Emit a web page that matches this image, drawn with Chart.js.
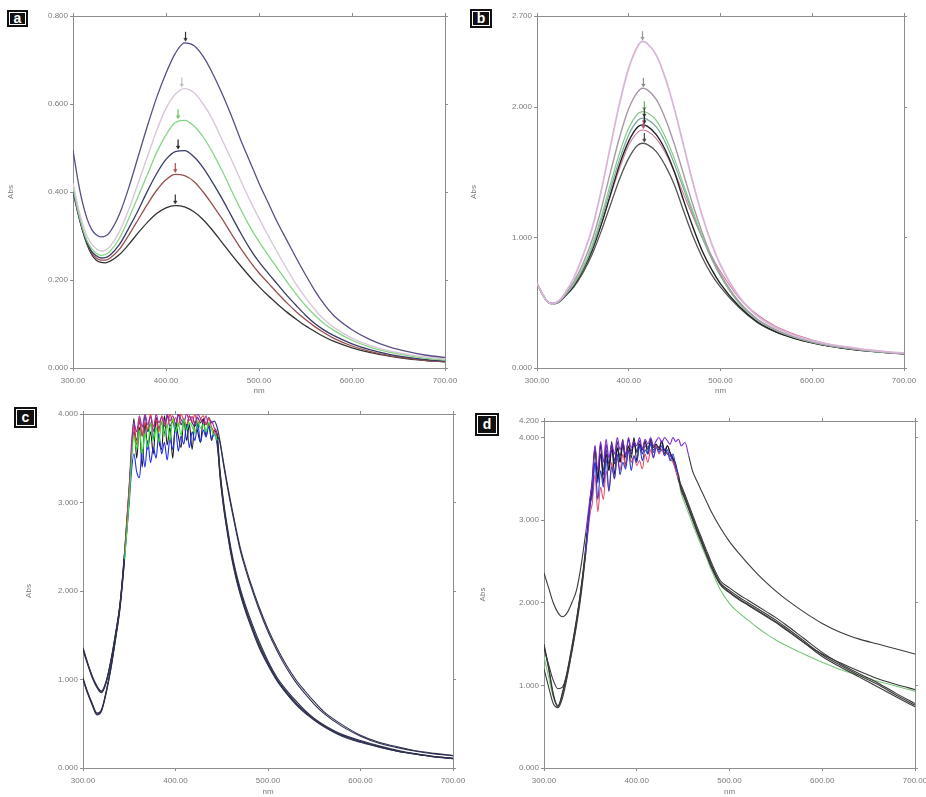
<!DOCTYPE html>
<html>
<head>
<meta charset="utf-8">
<script src="https://cdn.jsdelivr.net/npm/chart.js@4.4.1/dist/chart.umd.min.js"></script>
<style>
  html, body { margin: 0; padding: 0; background: #fff; }
  #fig { position: relative; width: 926px; height: 797px; overflow: hidden; }
  canvas { position: absolute; display: block; }
  .tag {
    position: absolute; background: #111; color: #fff; text-align: center;
    font: bold 14px "Liberation Sans", Arial, sans-serif;
    outline: 1px solid #fff; outline-offset: -3px;
  }
</style>
</head>
<body>
<div id="fig">
  <canvas id="pa" style="left:0;top:0"></canvas>
  <canvas id="pb" style="left:460px;top:0"></canvas>
  <canvas id="pc" style="left:0;top:398px"></canvas>
  <canvas id="pd" style="left:460px;top:398px"></canvas>
  <div class="tag" style="left:7px;top:10px;width:21px;height:17px;line-height:16px">a</div>
  <div class="tag" style="left:470px;top:9px;width:22px;height:19px;line-height:18px">b</div>
  <div class="tag" style="left:14px;top:407px;width:23px;height:21px;line-height:20px">c</div>
  <div class="tag" style="left:475px;top:413px;width:24px;height:23px;line-height:22px">d</div>
</div>
<script>
// tick labels
const nmTicks = [300, 400, 500, 600, 700];
const yTicksA = [0, 0.2, 0.4, 0.6, 0.8];
const yTicksB = [0, 1, 2, 2.7];
const yTicksC = [0, 1, 2, 3, 4];
const yTicksD = [0, 1, 2, 3, 4, 4.2];

// panel a - wavelengths (nm) and absorbance of the six spectra
const nmA = [300, 305, 310, 315, 320, 325, 330, 335, 340, 350, 360, 370, 380, 390, 400, 410, 420, 430, 440, 450,
  460, 470, 480, 490, 500, 510, 520, 530, 540, 550, 560, 570, 580, 600, 620, 640, 660, 680, 700];
const absA1 = [0.495, 0.43, 0.378, 0.34, 0.315, 0.303, 0.298, 0.30, 0.31,
  0.35, 0.41, 0.48, 0.55, 0.615, 0.67, 0.715, 0.739, 0.733, 0.708, 0.67, 0.625, 0.575, 0.52, 0.47, 0.42, 0.375,
  0.33, 0.29, 0.25, 0.212, 0.176, 0.145, 0.12, 0.087, 0.064, 0.048, 0.037, 0.029, 0.024];
const absA2 = [0.42, 0.37, 0.33, 0.30, 0.282, 0.271, 0.266, 0.268, 0.277,
  0.31, 0.36, 0.42, 0.48, 0.54, 0.59, 0.622, 0.635, 0.626, 0.60, 0.565, 0.52, 0.475, 0.428, 0.382, 0.34, 0.30,
  0.262, 0.225, 0.19, 0.16, 0.133, 0.11, 0.093, 0.068, 0.051, 0.039, 0.031, 0.025, 0.021];
const absA3 = [0.41, 0.36, 0.32, 0.29, 0.272, 0.261, 0.256, 0.258, 0.266,
  0.295, 0.34, 0.39, 0.44, 0.49, 0.53, 0.558, 0.563, 0.55, 0.525, 0.49, 0.45, 0.405, 0.362, 0.322, 0.287, 0.256,
  0.226, 0.196, 0.168, 0.142, 0.12, 0.101, 0.086, 0.063, 0.047, 0.036, 0.028, 0.022, 0.018];
const absA4 = [0.40, 0.355, 0.315, 0.285, 0.265, 0.255, 0.25, 0.251, 0.257,
  0.281, 0.318, 0.358, 0.402, 0.442, 0.474, 0.492, 0.494, 0.48, 0.455, 0.422, 0.386, 0.347, 0.308, 0.272, 0.241, 0.215,
  0.19, 0.165, 0.142, 0.12, 0.101, 0.086, 0.074, 0.055, 0.041, 0.031, 0.024, 0.019, 0.016];
const absA5 = [0.405, 0.355, 0.315, 0.284, 0.262, 0.25, 0.245, 0.245, 0.25,
  0.27, 0.302, 0.337, 0.372, 0.404, 0.428, 0.44, 0.437, 0.424, 0.40, 0.371, 0.34, 0.306, 0.273, 0.243, 0.216, 0.193,
  0.17, 0.148, 0.128, 0.11, 0.094, 0.08, 0.068, 0.05, 0.037, 0.028, 0.022, 0.017, 0.014];
const absA6 = [0.415, 0.36, 0.315, 0.281, 0.258, 0.245, 0.24, 0.239, 0.243,
  0.258, 0.281, 0.307, 0.331, 0.351, 0.364, 0.369, 0.366, 0.355, 0.337, 0.313, 0.286, 0.259, 0.233, 0.208, 0.185, 0.164,
  0.145, 0.127, 0.111, 0.096, 0.083, 0.071, 0.061, 0.046, 0.035, 0.027, 0.021, 0.017, 0.014];
// peak positions marked with small arrows
const peakNmA = [421, 417, 413, 413, 410, 410];
const peakAbsA = [0.739, 0.635, 0.563, 0.494, 0.441, 0.369];

// panel b
const nmB = [300, 305, 310, 315, 320, 325, 330, 340, 350, 360, 370, 380, 390, 400, 410, 415, 420, 430, 440, 450,
  460, 470, 480, 490, 500, 520, 540, 560, 580, 600, 620, 640, 660, 680, 700];
const absB1 = [0.65, 0.58, 0.52, 0.495, 0.50, 0.525, 0.57,
  0.69, 0.86, 1.07, 1.36, 1.70, 2.03, 2.30, 2.47, 2.505, 2.49, 2.40, 2.22, 1.98, 1.70, 1.42, 1.17, 0.96, 0.79,
  0.55, 0.40, 0.31, 0.25, 0.21, 0.18, 0.16, 0.14, 0.125, 0.115];
const absB2 = [0.65, 0.58, 0.52, 0.495, 0.497, 0.518, 0.56,
  0.66, 0.80, 0.98, 1.22, 1.50, 1.77, 1.99, 2.12, 2.146, 2.135, 2.06, 1.91, 1.71, 1.48, 1.25, 1.04, 0.86, 0.72,
  0.51, 0.375, 0.295, 0.24, 0.20, 0.172, 0.152, 0.136, 0.122, 0.112];
const absB3 = [0.65, 0.58, 0.52, 0.495, 0.496, 0.515, 0.555,
  0.645, 0.77, 0.94, 1.16, 1.41, 1.65, 1.84, 1.95, 1.967, 1.958, 1.90, 1.77, 1.60, 1.40, 1.20, 1.01, 0.85, 0.71,
  0.50, 0.37, 0.29, 0.237, 0.198, 0.17, 0.15, 0.134, 0.121, 0.111];
const absB4 = [0.65, 0.58, 0.52, 0.495, 0.496, 0.514, 0.552,
  0.64, 0.76, 0.92, 1.13, 1.37, 1.60, 1.79, 1.90, 1.916, 1.907, 1.85, 1.73, 1.56, 1.37, 1.18, 1.00, 0.84, 0.705,
  0.50, 0.37, 0.29, 0.236, 0.197, 0.169, 0.149, 0.133, 0.12, 0.11];
const absB5 = [0.65, 0.58, 0.52, 0.495, 0.495, 0.512, 0.548,
  0.63, 0.75, 0.90, 1.10, 1.33, 1.56, 1.74, 1.85, 1.865, 1.855, 1.79, 1.67, 1.50, 1.28, 1.08, 0.90, 0.76, 0.645,
  0.475, 0.355, 0.28, 0.23, 0.194, 0.166, 0.146, 0.131, 0.119, 0.109];
const absB6 = [0.65, 0.58, 0.52, 0.495, 0.497, 0.516, 0.555,
  0.64, 0.76, 0.91, 1.10, 1.32, 1.53, 1.71, 1.81, 1.826, 1.818, 1.76, 1.65, 1.50, 1.33, 1.16, 1.00, 0.86, 0.74,
  0.54, 0.41, 0.32, 0.26, 0.215, 0.18, 0.155, 0.138, 0.124, 0.113];
const absB7 = [0.65, 0.58, 0.52, 0.495, 0.494, 0.51, 0.545,
  0.62, 0.73, 0.87, 1.05, 1.25, 1.45, 1.61, 1.71, 1.724, 1.715, 1.66, 1.55, 1.40, 1.20, 1.01, 0.85, 0.72, 0.62,
  0.465, 0.35, 0.276, 0.228, 0.193, 0.166, 0.146, 0.13, 0.118, 0.108];
const peakNmB = [415, 416, 417, 417, 417, 416, 417];
const peakAbsB = [2.505, 2.146, 1.967, 1.916, 1.865, 1.826, 1.724];

// panels c and d share one wavelength list (denser where the detector saturates)
const nmSat = [300, 305, 310, 315, 320, 325, 330, 335, 340, 345, 350,
  352, 355, 358, 361, 364, 367, 370, 373, 376, 379, 382, 385, 388, 391, 394, 397, 400, 403, 406, 409,
  412, 415, 418, 421, 424, 427, 430, 433, 436, 439, 442, 445,
  448, 452, 456, 460, 465, 470, 475, 480, 490, 500, 510, 520, 530, 540, 550, 560, 580, 600, 620, 640, 660, 680, 700];

// panel c
const absCGreen = [1.0, 0.84, 0.71, 0.6, 0.64, 0.84, 1.11, 1.44, 1.8, 2.36, 3.05,
  3.4, 3.75, 3.6, 3.82, 3.55, 3.78, 3.62, 3.9, 3.7, 3.85, 3.68, 3.92, 3.75, 3.88, 3.7, 3.95, 3.8, 3.9, 3.76, 3.94,
  3.82, 3.9, 3.86, 3.78, 3.92, 3.84, 3.88, 3.8, 3.9, 3.82, 3.76, 3.7,
  3.3, 2.94, 2.66, 2.41, 2.16, 1.96, 1.79, 1.64, 1.37, 1.16, 0.98, 0.84, 0.72, 0.62, 0.54, 0.47, 0.36, 0.29, 0.235, 0.19, 0.155, 0.125, 0.105];
const absCPurple = [1.0, 0.85, 0.72, 0.61, 0.65, 0.86, 1.13, 1.46, 1.83, 2.4, 3.1,
  3.6, 3.9, 3.8, 3.98, 3.85, 4.0, 3.88, 3.97, 3.8, 4.0, 3.9, 3.96, 3.86, 4.0, 3.92, 3.98, 3.88, 4.0, 3.94, 3.9,
  4.0, 3.93, 3.97, 3.88, 4.0, 3.95, 3.9, 3.98, 3.86, 3.92, 3.84, 3.78,
  3.38, 3.01, 2.73, 2.48, 2.23, 2.03, 1.86, 1.71, 1.44, 1.21, 1.02, 0.88, 0.76, 0.65, 0.56, 0.49, 0.38, 0.31, 0.25, 0.2, 0.16, 0.13, 0.11];
const absCBlue = [1.02, 0.86, 0.73, 0.62, 0.66, 0.86, 1.12, 1.45, 1.82, 2.38, 3.0,
  3.3, 3.55, 3.35, 3.28, 3.6, 3.4, 3.7, 3.45, 3.62, 3.5, 3.78, 3.55, 3.68, 3.48, 3.72, 3.6, 3.85, 3.58, 3.75, 3.66,
  3.88, 3.62, 3.8, 3.7, 3.9, 3.68, 3.82, 3.74, 3.86, 3.72, 3.78, 3.65,
  3.35, 2.98, 2.7, 2.45, 2.2, 2.0, 1.83, 1.68, 1.41, 1.19, 1.0, 0.86, 0.74, 0.64, 0.55, 0.48, 0.37, 0.3, 0.24, 0.19, 0.16, 0.13, 0.11];
const absCRed = [1.35, 1.18, 1.03, 0.92, 0.86, 0.97, 1.2, 1.5, 1.85, 2.45, 3.2,
  3.5, 3.85, 3.65, 3.95, 3.75, 3.9, 3.82, 4.0, 3.86, 3.94, 3.8, 3.98, 3.9, 3.85, 4.0, 3.9, 3.96, 3.86, 4.0, 3.92,
  3.88, 3.98, 3.9, 4.0, 3.86, 3.94, 3.98, 3.88, 3.95, 3.85, 3.8, 3.74,
  3.33, 2.96, 2.68, 2.43, 2.18, 1.98, 1.81, 1.66, 1.39, 1.17, 0.99, 0.85, 0.73, 0.63, 0.55, 0.48, 0.37, 0.3, 0.24, 0.19, 0.155, 0.125, 0.105];
const absCBlack = [1.33, 1.17, 1.02, 0.91, 0.85, 0.96, 1.19, 1.49, 1.84, 2.42, 3.15,
  3.45, 3.95, 3.5, 3.85, 3.4, 3.9, 3.6, 3.8, 3.55, 3.95, 3.7, 3.6, 3.98, 3.65, 3.85, 3.5, 3.9, 3.75, 3.62, 3.95,
  3.7, 3.88, 3.6, 3.92, 3.8, 3.68, 3.95, 3.75, 3.9, 3.7, 3.82, 3.76,
  3.68, 3.42, 3.18, 2.96, 2.7, 2.46, 2.27, 2.1, 1.8, 1.54, 1.32, 1.13, 0.97, 0.84, 0.72, 0.62, 0.47, 0.36, 0.28, 0.23, 0.19, 0.16, 0.14];
const absCNavy = [1.36, 1.19, 1.04, 0.93, 0.87, 0.98, 1.21, 1.51, 1.86, 2.44, 3.18,
  3.5, 3.8, 3.7, 3.92, 3.75, 3.98, 3.8, 3.9, 3.72, 3.96, 3.84, 3.9, 3.78, 3.98, 3.86, 3.92, 3.8, 4.0, 3.88, 3.94,
  3.84, 3.98, 3.9, 3.86, 3.96, 3.9, 3.94, 3.88, 3.96, 3.9, 3.92, 3.85,
  3.7, 3.45, 3.21, 2.99, 2.73, 2.49, 2.3, 2.13, 1.83, 1.57, 1.35, 1.16, 1.0, 0.87, 0.75, 0.64, 0.49, 0.37, 0.29, 0.24, 0.195, 0.165, 0.14];

// panel d
const absDPurple = [2.36, 2.18, 2.0, 1.88, 1.83, 1.88, 2.0, 2.15, 2.45, 2.85, 3.3,
  3.45, 3.9, 3.6, 3.95, 3.7, 3.98, 3.75, 3.92, 3.8, 4.0, 3.85, 3.96, 3.78, 4.0, 3.88, 3.95, 3.9, 4.0, 3.86, 3.98,
  3.92, 4.0, 3.9, 3.96, 4.0, 3.94, 4.0, 3.96, 3.92, 4.0, 3.95, 3.98,
  3.9, 3.94, 3.78, 3.6, 3.47, 3.35, 3.23, 3.11, 2.91, 2.74, 2.6, 2.47, 2.35, 2.24, 2.14, 2.05, 1.89, 1.75, 1.64, 1.56, 1.5, 1.44, 1.38];
const absDBlue = [1.2, 0.98, 0.78, 0.73, 0.85, 1.1, 1.4, 1.72, 2.1, 2.6, 3.2,
  3.3, 3.7, 3.25, 3.6, 3.4, 3.75, 3.35, 3.65, 3.5, 3.8, 3.55, 3.7, 3.62, 3.85, 3.6, 3.78, 3.7, 3.9, 3.72, 3.85,
  3.8, 3.92, 3.76, 3.88, 3.82, 3.9, 3.78, 3.85, 3.72, 3.8, 3.65, 3.55,
  3.38, 3.26, 3.14, 3.02, 2.87, 2.73, 2.59, 2.45, 2.23, 2.13, 2.05, 1.98, 1.91, 1.84, 1.77, 1.69, 1.52, 1.35, 1.22, 1.1, 0.98, 0.86, 0.74];
const absDRed = [1.45, 1.25, 1.06, 0.96, 0.98, 1.15, 1.42, 1.76, 2.18, 2.6, 3.1,
  3.2, 3.55, 3.1, 3.4, 3.25, 3.6, 3.35, 3.7, 3.5, 3.75, 3.6, 3.8, 3.65, 3.85, 3.7, 3.78, 3.66, 3.72, 3.62, 3.8,
  3.7, 3.85, 3.75, 3.9, 3.8, 3.86, 3.78, 3.82, 3.74, 3.7, 3.6, 3.5,
  3.36, 3.25, 3.13, 3.01, 2.86, 2.72, 2.58, 2.44, 2.22, 2.12, 2.04, 1.97, 1.9, 1.83, 1.76, 1.68, 1.52, 1.38, 1.27, 1.17, 1.08, 1.01, 0.95];
const absDBlack = [1.5, 1.22, 0.9, 0.75, 0.9, 1.15, 1.45, 1.78, 2.15, 2.65, 3.25,
  3.4, 3.85, 3.5, 3.92, 3.45, 3.8, 3.6, 3.95, 3.55, 3.88, 3.7, 3.98, 3.65, 3.9, 3.75, 4.0, 3.72, 3.92, 3.85, 3.96,
  3.8, 3.98, 3.88, 3.92, 3.85, 3.95, 3.8, 3.9, 3.82, 3.75, 3.68, 3.52,
  3.4, 3.28, 3.16, 3.04, 2.89, 2.75, 2.61, 2.47, 2.24, 2.15, 2.07, 2.0, 1.93, 1.86, 1.79, 1.71, 1.54, 1.37, 1.24, 1.12, 1.01, 0.88, 0.76];
const absDGray = [1.48, 1.2, 0.88, 0.74, 0.92, 1.17, 1.47, 1.8, 2.18, 2.68, 3.28,
  3.5, 3.9, 3.45, 3.8, 3.55, 3.92, 3.6, 3.85, 3.68, 3.95, 3.7, 3.9, 3.76, 3.98, 3.8, 3.92, 3.84, 3.96, 3.8, 3.9,
  3.86, 3.95, 3.82, 3.9, 3.88, 3.96, 3.84, 3.9, 3.8, 3.74, 3.62, 3.48,
  3.42, 3.31, 3.19, 3.07, 2.92, 2.78, 2.64, 2.5, 2.27, 2.18, 2.1, 2.03, 1.96, 1.89, 1.82, 1.74, 1.57, 1.4, 1.26, 1.14, 1.03, 0.9, 0.78];
const absDGreen = [1.35, 1.1, 0.86, 0.76, 0.88, 1.12, 1.42, 1.75, 2.12, 2.62, 3.22,
  3.35, 3.7, 3.5, 3.8, 3.6, 3.85, 3.68, 3.9, 3.72, 3.86, 3.78, 3.92, 3.8, 3.88, 3.84, 3.95, 3.82, 3.9, 3.86, 3.94,
  3.88, 3.92, 3.85, 3.9, 3.88, 3.84, 3.86, 3.8, 3.78, 3.72, 3.62, 3.5,
  3.32, 3.2, 3.08, 2.96, 2.82, 2.68, 2.55, 2.41, 2.16, 1.99, 1.88, 1.79, 1.7, 1.62, 1.55, 1.49, 1.38, 1.28, 1.19, 1.12, 1.05, 0.99, 0.93];

const axisGray = '#8d8d8d';
const labelGray = '#7a7a7a';
const font = { family: '"Liberation Sans", Arial, sans-serif', size: 8 };

function setTicks(list) {
  return scale => { scale.ticks = list.map(v => ({ value: v })); };
}

function buildScales(yTicks, box) {
  const yMin = yTicks[0], yMax = yTicks[yTicks.length - 1];
  const grid = { drawOnChartArea: false, tickLength: 3, color: axisGray };
  const border = { color: axisGray, width: 1 };
  return {
    x: {
      type: 'linear', position: 'bottom', min: 300, max: 700,
      afterBuildTicks: setTicks(nmTicks), grid, border,
      ticks: { color: labelGray, font, padding: 5, maxRotation: 0, autoSkip: false, callback: v => v.toFixed(2) },
      title: { display: true, text: 'nm', color: labelGray, font, padding: { top: 0, bottom: box.xTitle } },
      afterFit: s => { s.height = box.xh; s.paddingLeft = 0; s.paddingRight = 0; }
    },
    x2: {
      type: 'linear', position: 'top', min: 300, max: 700,
      afterBuildTicks: setTicks(nmTicks), grid, border, ticks: { display: false },
      afterFit: s => { s.height = 0; s.paddingLeft = 0; s.paddingRight = 0; }
    },
    y: {
      type: 'linear', position: 'left', min: yMin, max: yMax,
      afterBuildTicks: setTicks(yTicks), grid, border,
      ticks: { color: labelGray, font, padding: 2, autoSkip: false, callback: v => v.toFixed(3) },
      title: { display: true, text: 'Abs', color: labelGray, font, padding: { top: box.yTitle, bottom: 0 } },
      afterFit: s => { s.width = box.yw; s.paddingTop = 0; s.paddingBottom = 0; }
    },
    y2: {
      type: 'linear', position: 'right', min: yMin, max: yMax,
      afterBuildTicks: setTicks(yTicks), grid, border, ticks: { display: false },
      afterFit: s => { s.width = 0; s.paddingTop = 0; s.paddingBottom = 0; }
    }
  };
}

// small downward arrows sitting just above each peak
function peakArrows(nm, abs, colors, lift) {
  const shaft = {
    data: nm.map((x, i) => ({ x, y: abs[i] + lift * 1.6 })),
    showLine: false, pointStyle: 'line', rotation: 90, pointRadius: 4,
    pointBorderColor: colors, pointBorderWidth: 1.2
  };
  const head = {
    data: nm.map((x, i) => ({ x, y: abs[i] + lift * 0.8 })),
    showLine: false, pointStyle: 'triangle', rotation: 180, pointRadius: 2,
    pointBackgroundColor: colors, pointBorderColor: colors, pointBorderWidth: 0.5
  };
  return [shaft, head];
}

function spectrum(id, box, yTicks, series, extra) {
  const canvas = document.getElementById(id);
  canvas.width = box.w;
  canvas.height = box.h;
  const lines = series.map(s => ({
    data: s.nm.map((x, i) => ({ x, y: s.abs[i] })),
    borderColor: s.color,
    borderWidth: s.width || 1.1,
    pointRadius: 0,
    cubicInterpolationMode: 'monotone',
    segment: s.noisy ? {
      borderColor: ctx => (ctx.p0.parsed.x >= s.from && ctx.p1.parsed.x <= s.to) ? s.noisy : undefined
    } : {}
  }));
  return new Chart(canvas, {
    type: 'line',
    data: { datasets: (extra || []).concat(lines) },
    options: {
      responsive: false,
      animation: false,
      layout: { padding: box.pad },
      plugins: { legend: { display: false }, tooltip: { enabled: false } },
      scales: buildScales(yTicks, box)
    }
  });
}

const colorsA = ['#5a4e86', '#d9c6da', '#86d486', '#363c66', '#97504f', '#333333'];
spectrum('pa', { w: 460, h: 398, pad: { top: 16, right: 15, left: 0, bottom: 0 }, yw: 73, xh: 30, yTitle: 6, xTitle: 2 }, yTicksA, [
  { nm: nmA, abs: absA1, color: colorsA[0], width: 1.3 },
  { nm: nmA, abs: absA2, color: colorsA[1], width: 1.4 },
  { nm: nmA, abs: absA3, color: colorsA[2], width: 1.3 },
  { nm: nmA, abs: absA4, color: colorsA[3], width: 1.3 },
  { nm: nmA, abs: absA5, color: colorsA[4], width: 1.3 },
  { nm: nmA, abs: absA6, color: colorsA[5], width: 1.3 }
], peakArrows(peakNmA, peakAbsA, ['#333', '#c8b8c8', '#6cc46c', '#222', '#b04a4a', '#333'], 0.01));

const colorsB = ['#d8b6d8', '#a897a8', '#86c886', '#7aa8a2', '#222222', '#cf7d98', '#555555'];
spectrum('pb', { w: 466, h: 398, pad: { top: 16, right: 22, left: 0, bottom: 0 }, yw: 77, xh: 30, yTitle: 9, xTitle: 2 }, yTicksB, [
  { nm: nmB, abs: absB1, color: colorsB[0], width: 1.8 },
  { nm: nmB, abs: absB2, color: colorsB[1], width: 1.4 },
  { nm: nmB, abs: absB3, color: colorsB[2], width: 1.2 },
  { nm: nmB, abs: absB4, color: colorsB[3], width: 1.2 },
  { nm: nmB, abs: absB5, color: colorsB[4], width: 1.4 },
  { nm: nmB, abs: absB6, color: colorsB[5], width: 1.1 },
  { nm: nmB, abs: absB7, color: colorsB[6], width: 1.3 }
], peakArrows(peakNmB, peakAbsB, ['#999', '#888', '#5cb85c', '#444', '#222', '#b05a7a', '#444'], 0.03));

const darkC = '#2f3150';
spectrum('pc', { w: 470, h: 399, pad: { top: 16, right: 17, left: 0, bottom: 0 }, yw: 83, xh: 29, yTitle: 24, xTitle: 0 }, yTicksC, [
  { nm: nmSat, abs: absCGreen, color: darkC, noisy: '#2ee82e', from: 343, to: 446 },
  { nm: nmSat, abs: absCPurple, color: darkC, noisy: '#a02aa8', from: 343, to: 446 },
  { nm: nmSat, abs: absCBlue, color: darkC, noisy: '#1e2cf0', from: 343, to: 446 },
  { nm: nmSat, abs: absCRed, color: darkC, noisy: '#e8403a', from: 343, to: 446 },
  { nm: nmSat, abs: absCBlack, color: darkC, noisy: '#1a1a1a', from: 343, to: 446 },
  { nm: nmSat, abs: absCNavy, color: darkC, noisy: '#2a2a7a', from: 343, to: 446 }
]);

const darkD = '#3a3a3a';
spectrum('pd', { w: 466, h: 399, pad: { top: 23, right: 11, left: 0, bottom: 0 }, yw: 84, xh: 29, yTitle: 18, xTitle: 0 }, yTicksD, [
  { nm: nmSat, abs: absDPurple, color: darkD, noisy: '#7a2cd0', from: 343, to: 458 },
  { nm: nmSat, abs: absDBlue, color: darkD, noisy: '#2b3bd6', from: 343, to: 446 },
  { nm: nmSat, abs: absDRed, color: darkD, noisy: '#e2506e', from: 343, to: 446 },
  { nm: nmSat, abs: absDBlack, color: darkD, noisy: '#1a1a1a', from: 343, to: 446 },
  { nm: nmSat, abs: absDGray, color: darkD, noisy: '#4a2a8a', from: 343, to: 446 },
  { nm: nmSat, abs: absDGreen, color: '#7cc47c', noisy: '#3a3a8a', from: 343, to: 446 }
]);
</script>
</body>
</html>
